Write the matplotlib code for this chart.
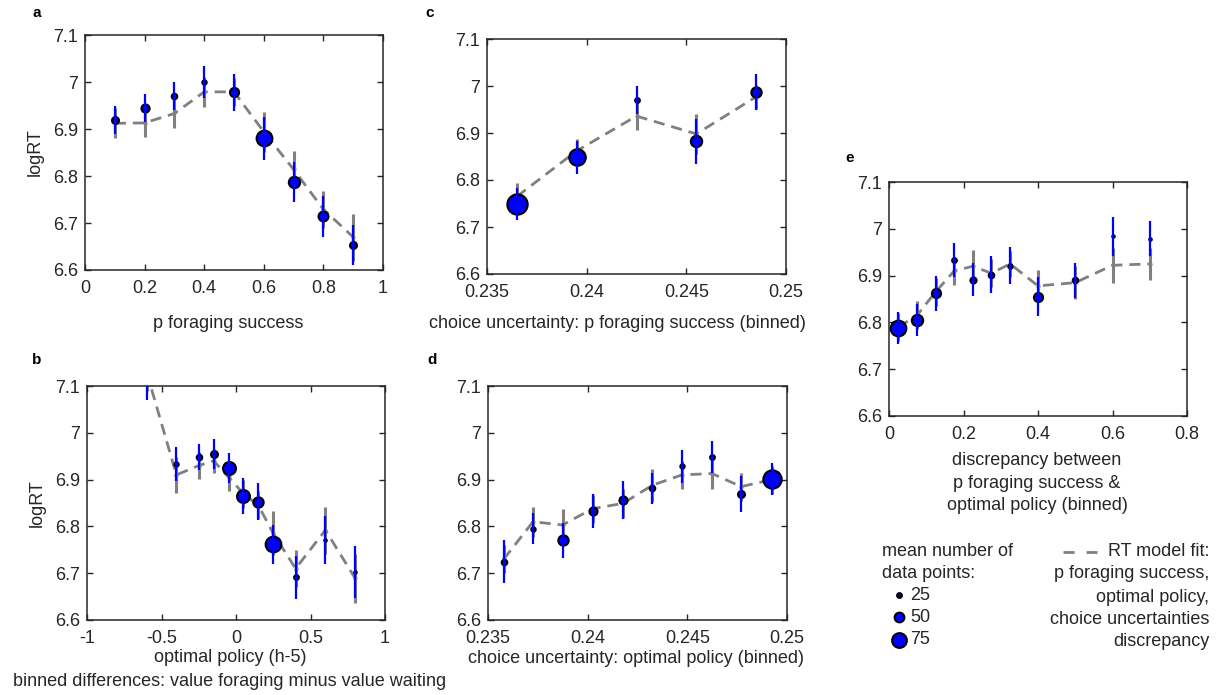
import numpy as np
import matplotlib
matplotlib.use('Agg')
import matplotlib.pyplot as plt
from matplotlib.ticker import FuncFormatter

plt.rcParams['font.family'] = ['Liberation Sans', 'DejaVu Sans']

# ---- data ----
# a: p foraging success
a_x = [0.1, 0.2, 0.3, 0.4, 0.5, 0.6, 0.7, 0.8, 0.9]
a_rt = [6.920, 6.945, 6.970, 7.000, 6.978, 6.880, 6.787, 6.714, 6.653]
a_err = [0.030, 0.030, 0.030, 0.035, 0.040, 0.045, 0.043, 0.043, 0.043]
a_fit = [6.912, 6.913, 6.933, 6.979, 6.979, 6.894, 6.814, 6.729, 6.670]
a_fit_err = [0.032, 0.030, 0.030, 0.032, 0.030, 0.043, 0.040, 0.040, 0.050]
a_n = [36, 42, 29, 23, 47, 80, 58, 51, 36]

# b: optimal policy
b_x = [-0.6, -0.4, -0.25, -0.15, -0.05, 0.05, 0.15, 0.25, 0.4, 0.6, 0.8]
b_rt = [7.160, 6.933, 6.949, 6.955, 6.924, 6.865, 6.853, 6.762, 6.691, 6.771, 6.703]
b_err = [0.090, 0.036, 0.028, 0.032, 0.032, 0.038, 0.040, 0.042, 0.046, 0.051, 0.056]
b_fit = [7.130, 6.910, 6.930, 6.940, 6.905, 6.870, 6.845, 6.785, 6.710, 6.792, 6.689]
b_fit_err = [0.040, 0.038, 0.028, 0.026, 0.030, 0.030, 0.030, 0.047, 0.040, 0.050, 0.052]
b_n = [15, 23, 29, 36, 66, 66, 53, 80, 25, 14, 14]

# c: choice uncertainty, p foraging success
c_x = [0.2365, 0.2395, 0.2425, 0.2455, 0.2485]
c_rt = [6.749, 6.848, 6.970, 6.882, 6.987]
c_err = [0.034, 0.035, 0.029, 0.047, 0.038]
c_fit = [6.765, 6.862, 6.936, 6.898, 6.977]
c_fit_err = [0.028, 0.025, 0.030, 0.042, 0.025]
c_n = [103, 84, 25, 58, 53]

# d: choice uncertainty, optimal policy
d_x = [0.23579, 0.23726, 0.23874, 0.24025, 0.24176, 0.24325, 0.24472, 0.24623, 0.24770, 0.24925]
d_rt = [6.725, 6.795, 6.770, 6.833, 6.856, 6.881, 6.928, 6.948, 6.869, 6.901]
d_err = [0.047, 0.033, 0.037, 0.037, 0.040, 0.033, 0.035, 0.034, 0.038, 0.034]
d_fit = [6.730, 6.810, 6.803, 6.838, 6.849, 6.888, 6.910, 6.913, 6.885, 6.900]
d_fit_err = [0.030, 0.032, 0.035, 0.030, 0.030, 0.035, 0.030, 0.033, 0.030, 0.030]
d_n = [29, 23, 53, 42, 42, 29, 23, 25, 36, 93]

# e: discrepancy
e_x = [0.025, 0.075, 0.125, 0.175, 0.225, 0.275, 0.325, 0.4, 0.5, 0.6, 0.7]
e_rt = [6.788, 6.805, 6.862, 6.934, 6.891, 6.902, 6.921, 6.855, 6.890, 6.984, 6.979]
e_err = [0.035, 0.034, 0.038, 0.036, 0.035, 0.039, 0.040, 0.042, 0.037, 0.042, 0.038]
e_fit = [6.790, 6.815, 6.865, 6.910, 6.920, 6.905, 6.925, 6.878, 6.885, 6.922, 6.925]
e_fit_err = [0.030, 0.030, 0.030, 0.030, 0.035, 0.030, 0.028, 0.035, 0.035, 0.038, 0.035]
e_n = [80, 58, 47, 25, 32, 29, 23, 47, 29, 14, 14]

legend_n = [25, 50, 75]

W, H = 1221, 695
TXT = '#262626'
GRAY = '#808080'
MEW = 1.5


def marker_size(n):
    # overall diameter in px grows linearly with n, convert to points
    d_px = 0.2 * n + 1.8
    return max(d_px * 0.72 - MEW, 0.5)


def gfmt(v, pos):
    return f'{round(v, 5):g}'


def make_axes(fig, box):
    x0, y0, x1, y1 = box
    ax = fig.add_axes([x0 / W, 1 - y1 / H, (x1 - x0) / W, (y1 - y0) / H])
    ax.set_ylim(6.6, 7.1)
    ax.set_yticks(np.arange(6.6, 7.11, 0.1))
    ax.yaxis.set_major_formatter(FuncFormatter(gfmt))
    ax.xaxis.set_major_formatter(FuncFormatter(gfmt))
    ax.tick_params(direction='in', top=True, right=True, length=4, width=1.0,
                   colors=TXT, labelsize=13, labelcolor=TXT)
    ax.tick_params(axis='x', pad=7)
    ax.tick_params(axis='y', pad=5)
    for s in ax.spines.values():
        s.set_color(TXT)
        s.set_linewidth(1.1)
    return ax


def draw_panel(ax, x, rt, err, fit, fit_err, n):
    ax.errorbar(x, fit, yerr=fit_err, color=GRAY, lw=2.0, ls=(0, (4, 2.5)),
                elinewidth=2.2, capsize=0, marker='.', ms=4, zorder=1)
    for xi, yi, ni in zip(x, rt, n):
        ax.plot(xi, yi, 'o', ms=marker_size(ni), mfc='#0000ff', mec='black',
                mew=MEW, zorder=3)
    ax.errorbar(x, rt, yerr=err, fmt='none', ecolor='#0000ff', elinewidth=1.6,
                capsize=0, zorder=4)


fig = plt.figure(figsize=(W / 100, H / 100), dpi=100)

ax_a = make_axes(fig, (85, 35, 383, 270))
draw_panel(ax_a, a_x, a_rt, a_err, a_fit, a_fit_err, a_n)
ax_a.set_xlim(0, 1)
ax_a.set_xticks(np.arange(0, 1.01, 0.2))
ax_a.set_xlabel('p foraging success', fontsize=13, color=TXT)
ax_a.xaxis.set_label_coords(0.48, -0.19)
ax_a.set_ylabel('logRT', fontsize=13, color=TXT)
ax_a.yaxis.set_label_coords(-0.14, 0.5)

ax_b = make_axes(fig, (87, 386, 385, 620))
draw_panel(ax_b, b_x, b_rt, b_err, b_fit, b_fit_err, b_n)
ax_b.set_xlim(-1, 1)
ax_b.set_xticks(np.arange(-1, 1.01, 0.5))
ax_b.set_xlabel('optimal policy (h-5)\nbinned differences: value foraging minus value waiting',
                fontsize=13, color=TXT, linespacing=1.5)
ax_b.xaxis.set_label_coords(0.48, -0.125)
ax_b.set_ylabel('logRT', fontsize=13, color=TXT)
ax_b.yaxis.set_label_coords(-0.14, 0.5)

ax_c = make_axes(fig, (487, 39, 786, 274))
draw_panel(ax_c, c_x, c_rt, c_err, c_fit, c_fit_err, c_n)
ax_c.set_xlim(0.235, 0.25)
ax_c.set_xticks([0.235, 0.24, 0.245, 0.25])
ax_c.set_xlabel('choice uncertainty: p foraging success (binned)', fontsize=13, color=TXT)
ax_c.xaxis.set_label_coords(0.435, -0.175)

ax_d = make_axes(fig, (488, 386, 787, 620))
draw_panel(ax_d, d_x, d_rt, d_err, d_fit, d_fit_err, d_n)
ax_d.set_xlim(0.235, 0.25)
ax_d.set_xticks([0.235, 0.24, 0.245, 0.25])
ax_d.set_xlabel('choice uncertainty: optimal policy (binned)', fontsize=13, color=TXT)
ax_d.xaxis.set_label_coords(0.495, -0.13)

ax_e = make_axes(fig, (889, 182, 1187, 416))
draw_panel(ax_e, e_x, e_rt, e_err, e_fit, e_fit_err, e_n)
ax_e.set_xlim(0, 0.8)
ax_e.set_xticks(np.arange(0, 0.81, 0.2))
ax_e.set_xlabel('discrepancy between\np foraging success &\noptimal policy (binned)',
                fontsize=13, color=TXT, linespacing=1.42)
ax_e.xaxis.set_label_coords(0.497, -0.155)

# panel letters
for lab, (px, py) in zip('abcde', [(37, 13), (37, 360), (430, 13), (432, 360), (850, 158)]):
    fig.text(px / W, 1 - py / H, lab, fontsize=11, fontweight='bold',
             ha='center', va='center', color='black')

# legend drawn on a full-figure overlay in pixel coordinates
leg = fig.add_axes([0, 0, 1, 1])
leg.set_xlim(0, W)
leg.set_ylim(H, 0)
leg.axis('off')
leg.text(882, 552, 'mean number of', fontsize=13, color=TXT, va='center')
leg.text(882, 574, 'data points:', fontsize=13, color=TXT, va='center')
for ni, yy in zip(legend_n, [595, 617, 640]):
    leg.plot(899, yy, 'o', ms=marker_size(ni), mfc='#0000ff', mec='black', mew=MEW)
    leg.text(910, yy, str(ni), fontsize=13, color=TXT, va='center')

leg.plot([1063, 1097], [552, 552], color=GRAY, lw=2.0, ls=(0, (4, 4.3)),
         solid_capstyle='butt', dash_capstyle='butt')
fit_lines = ['RT model fit:', 'p foraging success,', 'optimal policy,',
             'choice uncertainties', 'discrepancy']
for s, yy in zip(fit_lines, [552, 574, 597, 619, 642]):
    leg.text(1209, yy, s, fontsize=13, color=TXT, va='center', ha='right')

fig.savefig('out.png', dpi=100)
